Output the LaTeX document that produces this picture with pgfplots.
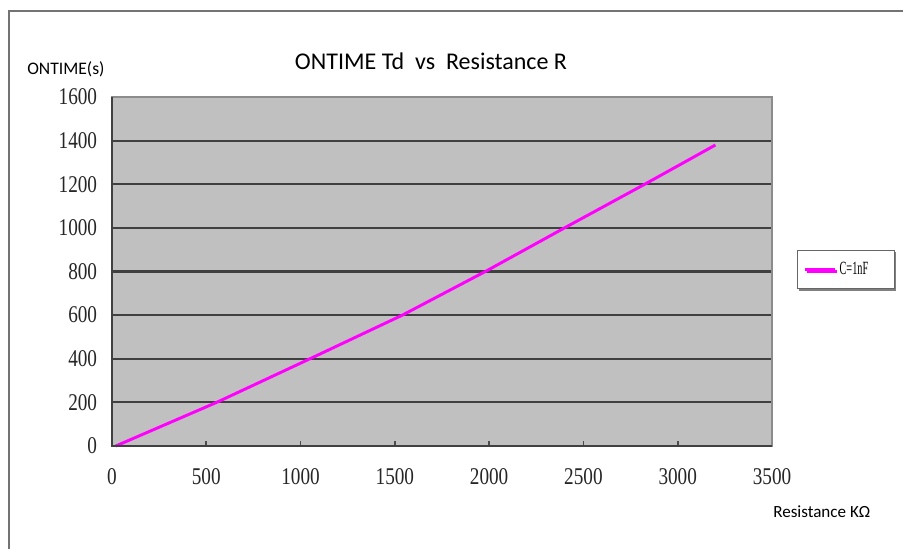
\documentclass[border=0pt]{standalone}
\usepackage{pgfplots}
\pgfplotsset{compat=1.18}
\usepackage{fontspec}
\setmainfont{Carlito}
\newfontfamily\tickfont[FakeStretch=0.8]{Liberation Serif}
\newfontfamily\legfont[FakeStretch=0.55]{Liberation Serif}
\usetikzlibrary{shadows}
\definecolor{plotgray}{HTML}{C0C0C0}
\definecolor{magline}{HTML}{FF00FF}
\begin{document}
\begin{tikzpicture}[x=0.75pt,y=0.75pt]
\useasboundingbox (0,0) rectangle (903,549);
\fill[white] (0,0) rectangle (903,549);
\draw[color=black!55, line width=1.5pt] (9,0) -- (9,538) -- (903,538);
\node[anchor=base, font=\fontsize{18}{18}\selectfont] at (431,479) {ONTIME Td\hspace{0.45em}vs\hspace{0.45em}Resistance R};
\node[anchor=base west, inner sep=0pt, font=\fontsize{13.2}{14}\selectfont] at (27,474) {ONTIME(s)};
\node[anchor=base west, inner sep=0pt, font=\fontsize{12.8}{14}\selectfont] at (773,31) {Resistance KΩ};
\begin{axis}[
  at={(84pt,77.25pt)}, anchor=south west,
  scale only axis, width=495pt, height=261.75pt,
  xmin=0, xmax=3500, ymin=0, ymax=1600,
  xtick={0,500,...,3500}, ytick={0,200,...,1600},
  xtick pos=bottom, ytick pos=left,
  ymajorgrids, grid style={line width=1.6pt, color=black!75},
  axis background/.style={fill=plotgray},
  axis line style={draw=black!45, line width=1.2pt},
  tick align=inside,
  ytick style={draw=none},
  xtick style={line width=1.2pt, color=black!70},
  major tick length=4pt,
  tick label style={font=\tickfont\fontsize{18}{18}\selectfont, text=black!85},
  xticklabel style={inner sep=0pt, yshift=-17pt},
  yticklabel style={inner sep=0pt, xshift=-11pt},
  scaled ticks=false,
  /pgf/number format/assume math mode=true,
  /pgf/number format/set thousands separator={},
  legend style={at={(1.038,0.5616)}, anchor=north west, draw=black!60, fill=white,
    font=\legfont\fontsize{14}{14}\selectfont, inner xsep=5pt, inner ysep=7pt,
    drop shadow={shadow xshift=1.5pt, shadow yshift=-1.5pt, fill=black!50, opacity=1}},
  legend cell align=left,
  legend image code/.code={\draw[#1] (0pt,0pt) -- (22.5pt,0pt);},
  clip=false,
]
\addplot[color=magline, line width=2.2pt] coordinates {
  (20,0) (555,200) (1050,400) (1540,600) (1980,800) (2400,1000) (2825,1200) (3200,1380)
};
\addlegendentry{\makebox[34pt][l]{C=1nF}}
\draw[black!75, line width=1.6pt] (rel axis cs:0,1) -- (rel axis cs:0,0) -- (rel axis cs:1,0);
\end{axis}
\end{tikzpicture}
\end{document}
